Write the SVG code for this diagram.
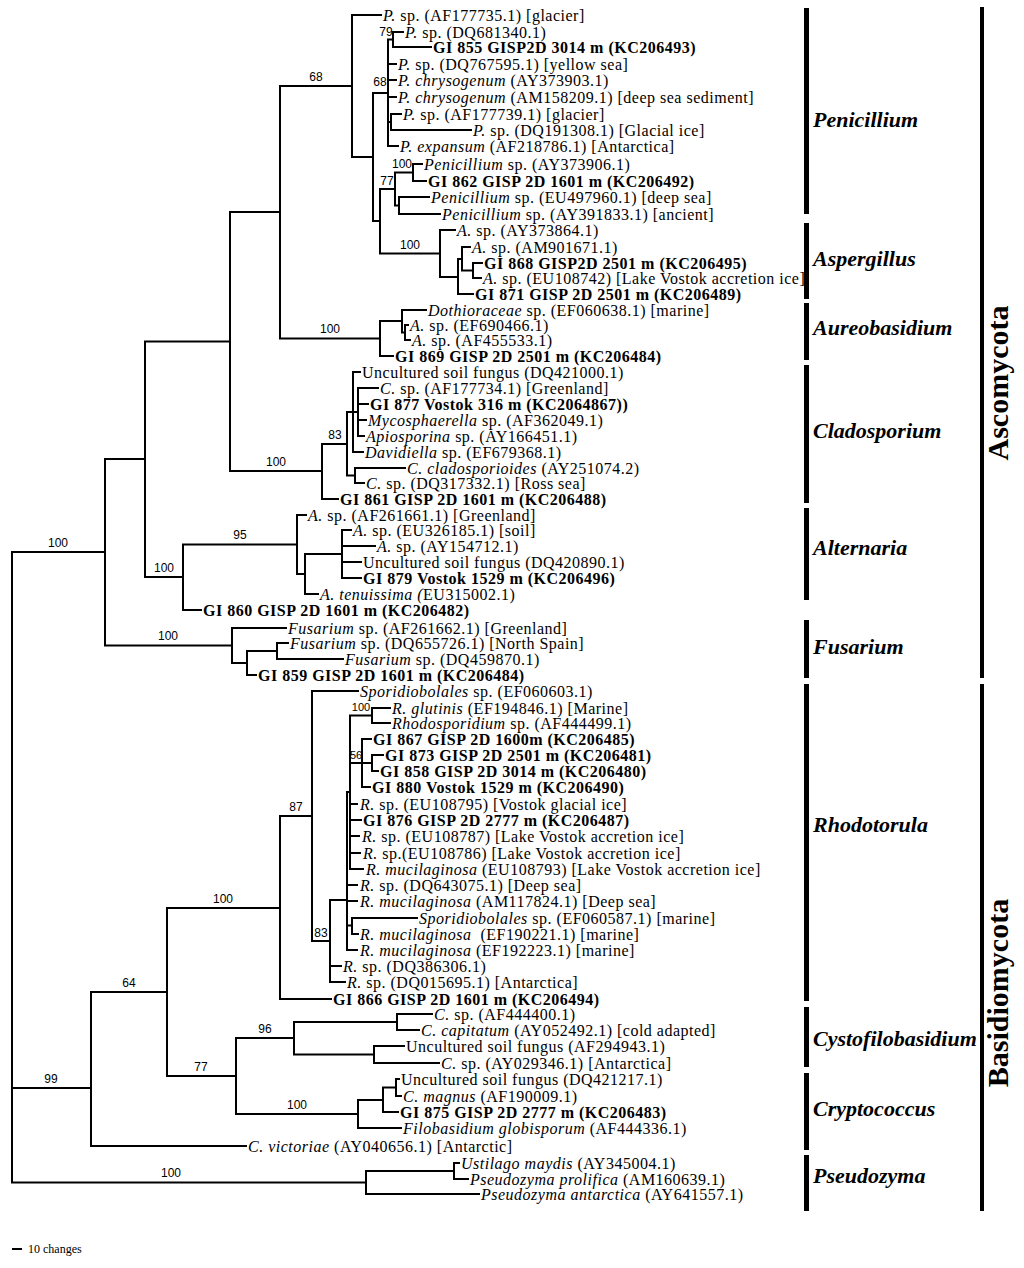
<svg xmlns="http://www.w3.org/2000/svg" width="1024" height="1268" viewBox="0 0 1024 1268">
<style>
.br{fill:none;stroke:#000;stroke-width:2;stroke-linecap:square}
.t{font-family:"Liberation Serif","Times New Roman",serif;font-size:16px;letter-spacing:0.5px;fill:#000}
.b{font-weight:bold}
.i{font-style:italic}
.s{font-family:"Liberation Sans",Arial,sans-serif;font-size:12px;fill:#000;text-anchor:middle}
.ss{font-size:11px}
.g{font-family:"Liberation Serif","Times New Roman",serif;font-size:22px;font-weight:bold;font-style:italic;fill:#000}
.p{font-family:"Liberation Serif","Times New Roman",serif;font-size:30px;font-weight:bold;fill:#000;text-anchor:middle}
.bar{fill:#000}
</style>
<rect width="1024" height="1268" fill="#fff"/>
<g id="branches" class="br">
<path d="M12,552V1182.5M12,552H105M12,1088H91M12,1182.5H366"/>
<path d="M105,459V645.5M105,459H145M105,645.5H232"/>
<path d="M145,341.5V577M145,341.5H230M145,577H183"/>
<path d="M230,212V471M230,212H280M230,471H322"/>
<path d="M280,86V338.5M280,86H352M280,338.5H380"/>
<path d="M352,15V157M352,15H381M352,157H373"/>
<path d="M373,93V221M373,93H388M373,221H380"/>
<path d="M388,39.5V146M388,39.5H393M388,64H396M388,80H396M388,97H396M388,122H391M388,146H398"/>
<path d="M393,32V47M393,32H403M393,47H431"/>
<path d="M391,114V130M391,114H401M391,130H471"/>
<path d="M380,189V253.5M380,189H395M380,253.5H440"/>
<path d="M395,172.5V205.5M395,172.5H413M395,205.5H399"/>
<path d="M413,164V181M413,164H422M413,181H426"/>
<path d="M399,197V214M399,197H429M399,214H440"/>
<path d="M440,230V277M440,230H455M440,277H458"/>
<path d="M458,259V294M458,259H462M458,294H473"/>
<path d="M462,247V270.5M462,247H470M462,270.5H473"/>
<path d="M473,263V278M473,263H482M473,278H481"/>
<path d="M380,321V356M380,321H402M380,356H393"/>
<path d="M402,310V332.5M402,310H426M402,332.5H405"/>
<path d="M405,325V340M405,325H408M405,340H410"/>
<path d="M322,444V499M322,444H347M322,499H338"/>
<path d="M347,412V475.5M347,412H353M347,475.5H355"/>
<path d="M353,372V452M353,372H360M353,412H358M353,452H363"/>
<path d="M358,388V436M358,388H378M358,404H368M358,420H366M358,436H364"/>
<path d="M355,468V483M355,468H405M355,483H364"/>
<path d="M183,544.5V610M183,544.5H297M183,610H201"/>
<path d="M297,515V574M297,515H306M297,574H305"/>
<path d="M305,554V594M305,554H342M305,594H318"/>
<path d="M342,530V578M342,530H351M342,546H375M342,562H361M342,578H361"/>
<path d="M232,628V663M232,628H286M232,663H247"/>
<path d="M247,651V675M247,651H277M247,675H256"/>
<path d="M277,643V659M277,643H288M277,659H343"/>
<path d="M91,992V1146M91,992H167M91,1146H246"/>
<path d="M167,908V1076M167,908H280M167,1076H236"/>
<path d="M280,816V999M280,816H312M280,999H331"/>
<path d="M312,691V941M312,691H358M312,941H330"/>
<path d="M330,900V982M330,900H347M330,966H341M330,982H345"/>
<path d="M347,792V950M347,792H350M347,885H357M347,901H357M347,925.5H352M347,950H357"/>
<path d="M352,918V934M352,918H417M352,934H358"/>
<path d="M350,715.5V869M350,715.5H372M350,763H362M350,804H357M350,820H361M350,836H359M350,853H360M350,869H363"/>
<path d="M372,708V723M372,708H390M372,723H390"/>
<path d="M362,739V787M362,739H371M362,763H372M362,787H370"/>
<path d="M372,755V771M372,755H383M372,771H378"/>
<path d="M236,1038V1114M236,1038H294M236,1114H358"/>
<path d="M294,1022V1054.5M294,1022H397M294,1054.5H374"/>
<path d="M397,1014V1030M397,1014H432M397,1030H419"/>
<path d="M374,1046V1063M374,1046H404M374,1063H439"/>
<path d="M358,1100V1128M358,1100H383M358,1128H401"/>
<path d="M383,1087.5V1112M383,1087.5H396M383,1112H398"/>
<path d="M396,1079V1096M396,1079H399M396,1096H401"/>
<path d="M366,1171V1194M366,1171H454M366,1194H479"/>
<path d="M454,1163V1179M454,1163H459M454,1179H468"/>
</g>
<g id="support">
<text class="s" x="58" y="547">100</text>
<text class="s" x="316" y="81">68</text>
<text class="s" x="330" y="333">100</text>
<text class="s" x="276" y="466">100</text>
<text class="s" x="335" y="439">83</text>
<text class="s" x="240" y="539">95</text>
<text class="s" x="164" y="572">100</text>
<text class="s" x="168" y="640">100</text>
<text class="s" x="380" y="86">68</text>
<text class="s" x="386" y="36">79</text>
<text class="s" x="402" y="168">100</text>
<text class="s" x="387" y="185">77</text>
<text class="s" x="410" y="249">100</text>
<text class="s ss" x="361" y="711">100</text>
<text class="s ss" x="356" y="759">56</text>
<text class="s" x="296" y="811">87</text>
<text class="s" x="321" y="937">83</text>
<text class="s" x="223" y="903">100</text>
<text class="s" x="129" y="987">64</text>
<text class="s" x="201" y="1071">77</text>
<text class="s" x="265" y="1033">96</text>
<text class="s" x="297" y="1109">100</text>
<text class="s" x="51" y="1083">99</text>
<text class="s" x="171" y="1177">100</text>
</g>
<g id="leaves" class="t">
<g id="leaf-01"><text x="383" y="21"><tspan class="i">P.</tspan> sp. (AF177735.1) [glacier]</text></g>
<g id="leaf-02"><text x="405" y="38"><tspan class="i">P.</tspan> sp. (DQ681340.1)</text></g>
<g id="leaf-03"><text class="b" x="433" y="53">GI 855 GISP2D 3014 m (KC206493)</text></g>
<g id="leaf-04"><text x="398" y="70"><tspan class="i">P.</tspan> sp. (DQ767595.1) [yellow sea]</text></g>
<g id="leaf-05"><text x="398" y="86"><tspan class="i">P. chrysogenum</tspan> (AY373903.1)</text></g>
<g id="leaf-06"><text x="398" y="103"><tspan class="i">P. chrysogenum</tspan> (AM158209.1) [deep sea sediment]</text></g>
<g id="leaf-07"><text x="403" y="120"><tspan class="i">P.</tspan> sp. (AF177739.1) [glacier]</text></g>
<g id="leaf-08"><text x="473" y="136"><tspan class="i">P.</tspan> sp. (DQ191308.1) [Glacial ice]</text></g>
<g id="leaf-09"><text x="400" y="152"><tspan class="i">P. expansum</tspan> (AF218786.1) [Antarctica]</text></g>
<g id="leaf-10"><text x="424" y="170"><tspan class="i">Penicillium</tspan> sp. (AY373906.1)</text></g>
<g id="leaf-11"><text class="b" x="428" y="187">GI 862 GISP 2D 1601 m (KC206492)</text></g>
<g id="leaf-12"><text x="431" y="203"><tspan class="i">Penicillium</tspan> sp. (EU497960.1) [deep sea]</text></g>
<g id="leaf-13"><text x="442" y="220"><tspan class="i">Penicillium</tspan> sp. (AY391833.1) [ancient]</text></g>
<g id="leaf-14"><text x="457" y="236"><tspan class="i">A.</tspan> sp. (AY373864.1)</text></g>
<g id="leaf-15"><text x="472" y="253"><tspan class="i">A.</tspan> sp. (AM901671.1)</text></g>
<g id="leaf-16"><text class="b" x="484" y="269">GI 868 GISP2D 2501 m (KC206495)</text></g>
<g id="leaf-17"><text x="483" y="284"><tspan class="i">A.</tspan> sp. (EU108742) [Lake Vostok accretion ice]</text></g>
<g id="leaf-18"><text class="b" x="475" y="300">GI 871 GISP 2D 2501 m (KC206489)</text></g>
<g id="leaf-19"><text x="428" y="316"><tspan class="i">Dothioraceae</tspan> sp. (EF060638.1) [marine]</text></g>
<g id="leaf-20"><text x="410" y="331"><tspan class="i">A.</tspan> sp. (EF690466.1)</text></g>
<g id="leaf-21"><text x="412" y="346"><tspan class="i">A.</tspan> sp. (AF455533.1)</text></g>
<g id="leaf-22"><text class="b" x="395" y="362">GI 869 GISP 2D 2501 m (KC206484)</text></g>
<g id="leaf-23"><text x="362" y="378">Uncultured soil fungus (DQ421000.1)</text></g>
<g id="leaf-24"><text x="380" y="394"><tspan class="i">C.</tspan> sp. (AF177734.1) [Greenland]</text></g>
<g id="leaf-25"><text class="b" x="370" y="410">GI 877 Vostok 316 m (KC2064867))</text></g>
<g id="leaf-26"><text x="368" y="426"><tspan class="i">Mycosphaerella</tspan> sp. (AF362049.1)</text></g>
<g id="leaf-27"><text x="366" y="442"><tspan class="i">Apiosporina</tspan> sp. (AY166451.1)</text></g>
<g id="leaf-28"><text x="365" y="458"><tspan class="i">Davidiella</tspan> sp. (EF679368.1)</text></g>
<g id="leaf-29"><text x="407" y="474"><tspan class="i">C. cladosporioides</tspan> (AY251074.2)</text></g>
<g id="leaf-30"><text x="366" y="489"><tspan class="i">C.</tspan> sp. (DQ317332.1) [Ross sea]</text></g>
<g id="leaf-31"><text class="b" x="340" y="505">GI 861 GISP 2D 1601 m (KC206488)</text></g>
<g id="leaf-32"><text x="308" y="521"><tspan class="i">A.</tspan> sp. (AF261661.1) [Greenland]</text></g>
<g id="leaf-33"><text x="353" y="536"><tspan class="i">A.</tspan> sp. (EU326185.1) [soil]</text></g>
<g id="leaf-34"><text x="377" y="552"><tspan class="i">A.</tspan> sp. (AY154712.1)</text></g>
<g id="leaf-35"><text x="363" y="568">Uncultured soil fungus (DQ420890.1)</text></g>
<g id="leaf-36"><text class="b" x="363" y="584">GI 879 Vostok 1529 m (KC206496)</text></g>
<g id="leaf-37"><text x="320" y="600"><tspan class="i">A. tenuissima (</tspan>EU315002.1)</text></g>
<g id="leaf-38"><text class="b" x="203" y="616">GI 860 GISP 2D 1601 m (KC206482)</text></g>
<g id="leaf-39"><text x="288" y="634"><tspan class="i">Fusarium</tspan> sp. (AF261662.1) [Greenland]</text></g>
<g id="leaf-40"><text x="290" y="649"><tspan class="i">Fusarium</tspan> sp. (DQ655726.1) [North Spain]</text></g>
<g id="leaf-41"><text x="345" y="665"><tspan class="i">Fusarium</tspan> sp. (DQ459870.1)</text></g>
<g id="leaf-42"><text class="b" x="258" y="681">GI 859 GISP 2D 1601 m (KC206484)</text></g>
<g id="leaf-43"><text x="360" y="697"><tspan class="i">Sporidiobolales</tspan> sp. (EF060603.1)</text></g>
<g id="leaf-44"><text x="392" y="714"><tspan class="i">R. glutinis</tspan> (EF194846.1) [Marine]</text></g>
<g id="leaf-45"><text x="392" y="729"><tspan class="i">Rhodosporidium</tspan> sp. (AF444499.1)</text></g>
<g id="leaf-46"><text class="b" x="373" y="745">GI 867 GISP 2D 1600m (KC206485)</text></g>
<g id="leaf-47"><text class="b" x="385" y="761">GI 873 GISP 2D 2501 m (KC206481)</text></g>
<g id="leaf-48"><text class="b" x="380" y="777">GI 858 GISP 2D 3014 m (KC206480)</text></g>
<g id="leaf-49"><text class="b" x="372" y="793">GI 880 Vostok 1529 m (KC206490)</text></g>
<g id="leaf-50"><text x="360" y="810"><tspan class="i">R.</tspan> sp. (EU108795) [Vostok glacial ice]</text></g>
<g id="leaf-51"><text class="b" x="363" y="826">GI 876 GISP 2D 2777 m (KC206487)</text></g>
<g id="leaf-52"><text x="362" y="842"><tspan class="i">R.</tspan> sp. (EU108787) [Lake Vostok accretion ice]</text></g>
<g id="leaf-53"><text x="363" y="859"><tspan class="i">R.</tspan> sp.(EU108786) [Lake Vostok accretion ice]</text></g>
<g id="leaf-54"><text x="366" y="875"><tspan class="i">R. mucilaginosa</tspan> (EU108793) [Lake Vostok accretion ice]</text></g>
<g id="leaf-55"><text x="360" y="891"><tspan class="i">R.</tspan> sp. (DQ643075.1) [Deep sea]</text></g>
<g id="leaf-56"><text x="360" y="907"><tspan class="i">R. mucilaginosa</tspan> (AM117824.1) [Deep sea]</text></g>
<g id="leaf-57"><text x="419" y="924"><tspan class="i">Sporidiobolales</tspan> sp. (EF060587.1) [marine]</text></g>
<g id="leaf-58"><text x="360" y="940" xml:space="preserve"><tspan class="i">R. mucilaginosa</tspan>  (EF190221.1) [marine]</text></g>
<g id="leaf-59"><text x="360" y="956"><tspan class="i">R. mucilaginosa</tspan> (EF192223.1) [marine]</text></g>
<g id="leaf-60"><text x="343" y="972"><tspan class="i">R.</tspan> sp. (DQ386306.1)</text></g>
<g id="leaf-61"><text x="347" y="988"><tspan class="i">R.</tspan> sp. (DQ015695.1) [Antarctica]</text></g>
<g id="leaf-62"><text class="b" x="333" y="1005">GI 866 GISP 2D 1601 m (KC206494)</text></g>
<g id="leaf-63"><text x="434" y="1020"><tspan class="i">C.</tspan> sp. (AF444400.1)</text></g>
<g id="leaf-64"><text x="421" y="1036"><tspan class="i">C. capitatum</tspan> (AY052492.1) [cold adapted]</text></g>
<g id="leaf-65"><text x="406" y="1052">Uncultured soil fungus (AF294943.1)</text></g>
<g id="leaf-66"><text x="441" y="1069"><tspan class="i">C.</tspan> sp. (AY029346.1) [Antarctica]</text></g>
<g id="leaf-67"><text x="401" y="1085">Uncultured soil fungus (DQ421217.1)</text></g>
<g id="leaf-68"><text x="403" y="1102"><tspan class="i">C. magnus</tspan> (AF190009.1)</text></g>
<g id="leaf-69"><text class="b" x="400" y="1118">GI 875 GISP 2D 2777 m (KC206483)</text></g>
<g id="leaf-70"><text x="403" y="1134"><tspan class="i">Filobasidium globisporum</tspan> (AF444336.1)</text></g>
<g id="leaf-71"><text x="248" y="1152"><tspan class="i">C. victoriae</tspan> (AY040656.1) [Antarctic]</text></g>
<g id="leaf-72"><text x="461" y="1169"><tspan class="i">Ustilago maydis</tspan> (AY345004.1)</text></g>
<g id="leaf-73"><text x="470" y="1185"><tspan class="i">Pseudozyma prolifica</tspan> (AM160639.1)</text></g>
<g id="leaf-74"><text x="481" y="1200"><tspan class="i">Pseudozyma antarctica</tspan> (AY641557.1)</text></g>
</g>
<g id="clade-penicillium"><rect class="bar" x="804" y="8" width="5" height="206"/><text class="g" x="813" y="127">Penicillium</text></g>
<g id="clade-aspergillus"><rect class="bar" x="804" y="223" width="5" height="76"/><text class="g" x="813" y="266">Aspergillus</text></g>
<g id="clade-aureobasidium"><rect class="bar" x="804" y="303" width="5" height="57"/><text class="g" x="813" y="335">Aureobasidium</text></g>
<g id="clade-cladosporium"><rect class="bar" x="804" y="365" width="5" height="138"/><text class="g" x="813" y="438">Cladosporium</text></g>
<g id="clade-alternaria"><rect class="bar" x="804" y="508" width="5" height="92"/><text class="g" x="813" y="555">Alternaria</text></g>
<g id="clade-fusarium"><rect class="bar" x="804" y="620" width="5" height="58"/><text class="g" x="813" y="654">Fusarium</text></g>
<g id="clade-rhodotorula"><rect class="bar" x="804" y="684" width="5" height="317"/><text class="g" x="813" y="832">Rhodotorula</text></g>
<g id="clade-cystofilobasidium"><rect class="bar" x="804" y="1007" width="5" height="60"/><text class="g" x="813" y="1046">Cystofilobasidium</text></g>
<g id="clade-cryptococcus"><rect class="bar" x="804" y="1073" width="5" height="77"/><text class="g" x="813" y="1116">Cryptococcus</text></g>
<g id="clade-pseudozyma"><rect class="bar" x="804" y="1155" width="5" height="56"/><text class="g" x="813" y="1183">Pseudozyma</text></g>
<g id="phylum-ascomycota"><rect class="bar" x="980" y="7" width="4" height="671"/><text class="p" transform="translate(1008,383) rotate(-90)">Ascomycota</text></g>
<g id="phylum-basidiomycota"><rect class="bar" x="980" y="684" width="4" height="527"/><text class="p" transform="translate(1008,993) rotate(-90)">Basidiomycota</text></g>
<g id="scale-bar"><path d="M12,1249H22" stroke="#000" stroke-width="2"/><text x="28" y="1253" style="font-family:'Liberation Serif','Times New Roman',serif;font-size:12px">10 changes</text></g>
</svg>
